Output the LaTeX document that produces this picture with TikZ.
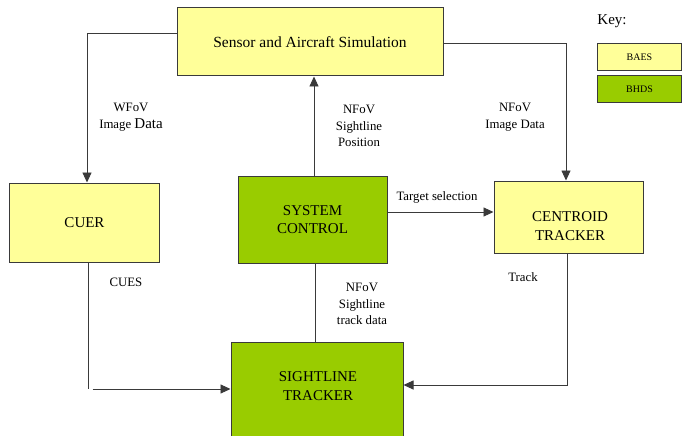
\documentclass[tikz,border=0pt]{standalone}
\usepackage{fontspec}
\setmainfont{Liberation Serif}
\usetikzlibrary{arrows.meta}
\definecolor{baes}{HTML}{FFFF99}
\definecolor{bhds}{HTML}{99CC00}
\definecolor{edge}{HTML}{3A3A3A}
\begin{document}
\begin{tikzpicture}[x=1pt,y=-1pt,
  btext/.style={inner sep=0pt,align=center,font=\fontsize{15}{18.5}\selectfont},
  box/.style={btext,draw=edge,line width=1pt},
  ybox/.style={box,fill=baes},
  gbox/.style={box,fill=bhds},
  conn/.style={draw=edge,line width=0.9pt},
  arr/.style={conn,-{Triangle[length=10pt,width=9pt]}},
  lbl/.style={align=center,inner sep=0pt,font=\fontsize{12.8}{16.5}\selectfont},
  keybox/.style={draw=edge,line width=0.8pt,inner sep=0pt,minimum width=84pt,minimum height=27pt,font=\fontsize{10}{12}\selectfont}]
\useasboundingbox (0,0) rectangle (691,436);
\fill[white] (0,0) rectangle (691,436);
% boxes
\node[ybox,minimum width=266pt,minimum height=68pt,font=\fontsize{15.5}{18}\selectfont] (sens) at (310,42) {Sensor and Aircraft Simulation};
\node[ybox,minimum width=150pt,minimum height=79pt] (cuer) at (84.5,222.5) {CUER};
\node[gbox,minimum width=149pt,minimum height=87pt] (sys) at (312.5,219.5) {SYSTEM\\CONTROL};
\node[ybox,minimum width=149pt,minimum height=72pt] (cent) at (568.5,217) {};
\node[btext] (centt) at (570,226) {CENTROID\\TRACKER};
\node[gbox,minimum width=172pt,minimum height=96pt] (st) at (317,390.5) {};
\node[btext] (stt) at (318,386) {SIGHTLINE\\TRACKER};
% key
\node[inner sep=0pt,font=\fontsize{15}{18}\selectfont] (key) at (612,21) {Key:};
\node[keybox,fill=baes] (kb) at (639.5,57) {BAES};
\node[keybox,fill=bhds] (kg) at (639.5,89) {BHDS};
% coordinates
\coordinate (lc) at (87,33);
\coordinate (rc) at (566,43);
\coordinate (cb) at (88.5,389);
\coordinate (tb) at (567,385);
% connectors
\draw[arr] (sens.west |- lc) -- (lc) -- (lc |- cuer.north);
\draw[arr] (sens.east |- rc) -- (rc) -- (rc |- cent.north);
\draw[arr] (sys.north -| 314,0) -- (sens.south -| 314,0);
\draw[arr] (sys.east |- 0,212) -- (cent.west |- 0,212);
\draw[conn] (sys.south -| 315,0) -- (st.north -| 315,0);
\draw[conn] (cuer.south -| cb) -- (cb);
\draw[arr] ([xshift=4pt]cb) -- (st.west |- cb);
\draw[arr] (cent.south -| tb) -- (tb) -- (st.east |- tb);
% labels
\node[lbl] (l1) at (131,117) {WFoV\\Image {\fontsize{15}{16.5}\selectfont Data}};
\node[lbl] (l2) at (359,126) {NFoV\\Sightline\\Position};
\node[lbl] (l3) at (515,117) {NFoV\\Image Data};
\node[lbl] (l4) at (437,197) {Target selection};
\node[lbl] (l5) at (126,282) {CUES};
\node[lbl] (l6) at (523,277) {Track};
\node[lbl] (l7) at (362,304) {NFoV\\Sightline\\track data};
\end{tikzpicture}
\end{document}
